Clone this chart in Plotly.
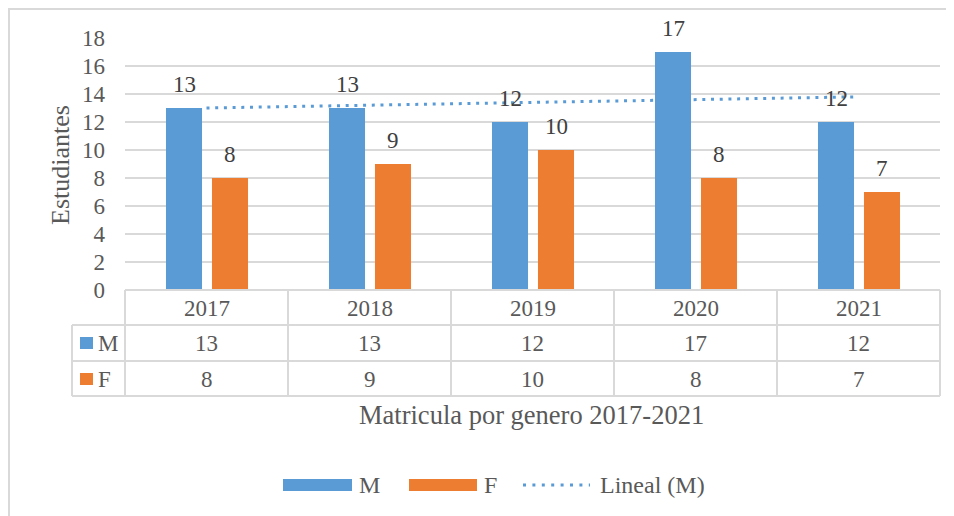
import numpy as np
import plotly.graph_objects as go

# ---------------- data ----------------
years = ["2017", "2018", "2019", "2020", "2021"]
male = [13, 13, 12, 17, 12]
female = [8, 9, 10, 8, 7]
series_names = ["M", "F"]
trend_name = "Lineal (M)"
y_title = "Estudiantes"
x_title = "Matricula por genero 2017-2021"
y_ticks = [0, 2, 4, 6, 8, 10, 12, 14, 16, 18]

# ---------------- style ----------------
BLUE = "#5B9BD5"
ORANGE = "#ED7D31"
GRID = "#D9D9D9"
TXT = "#595959"
LBL = "#404040"
FONT = "Liberation Serif, Times New Roman, serif"
FS = 23

# page body has an 8px margin: figure drawn at (8, 8)
OFF = 8
W, H = 946, 508
L, R, T, B = 117, 14, 30, 226
PW = W - L - R
PH = H - T - B


def px(x):  # screen x -> paper
    return (x - OFF - L) / PW


def py(y):  # screen y -> paper
    return (H - B - (y - OFF)) / PH


pos = list(range(len(years)))

# linear trend of M (least squares)
coef = np.polyfit(pos, male, 1)
trend = np.polyval(coef, pos)

fig = go.Figure()
fig.add_trace(go.Bar(x=pos, y=male, name=series_names[0], width=0.221, offset=-0.2485,
                     marker=dict(color=BLUE, line=dict(width=0))))
fig.add_trace(go.Bar(x=pos, y=female, name=series_names[1], width=0.221, offset=0.0337,
                     marker=dict(color=ORANGE, line=dict(width=0))))
fig.add_trace(go.Scatter(x=pos, y=trend, name=trend_name, mode="lines",
                         line=dict(color=BLUE, width=3, dash="3px,5.7px")))

annotations = []
shapes = []

# data labels
for i in pos:
    annotations.append(dict(x=i, y=male[i], xref="x", yref="y", text=str(male[i]), showarrow=False,
                            yanchor="middle", yshift=24, xshift=-22.5,
                            font=dict(family=FONT, size=FS, color=LBL)))
    annotations.append(dict(x=i, y=female[i], xref="x", yref="y", text=str(female[i]), showarrow=False,
                            yanchor="middle", yshift=24, xshift=23.5,
                            font=dict(family=FONT, size=FS, color=LBL)))

# data table text
for i in pos:
    annotations.append(dict(x=i, y=py(308), xref="x", yref="paper", text=years[i], showarrow=False,
                            yanchor="middle", font=dict(family=FONT, size=FS, color=TXT)))
    annotations.append(dict(x=i, y=py(343), xref="x", yref="paper", text=str(male[i]), showarrow=False,
                            yanchor="middle", font=dict(family=FONT, size=FS, color=TXT)))
    annotations.append(dict(x=i, y=py(379), xref="x", yref="paper", text=str(female[i]), showarrow=False,
                            yanchor="middle", font=dict(family=FONT, size=FS, color=TXT)))

# table row headers (key + name)
for name, col, yc in [(series_names[0], BLUE, 343), (series_names[1], ORANGE, 379)]:
    shapes.append(dict(type="rect", xref="paper", yref="paper", x0=px(80), x1=px(93),
                       y0=py(yc + 6), y1=py(yc - 6), fillcolor=col, line=dict(width=0)))
    annotations.append(dict(x=px(96), y=py(yc), xref="paper", yref="paper", text=name, showarrow=False,
                            xanchor="left", yanchor="middle", font=dict(family=FONT, size=FS, color=TXT)))

# table grid lines
tl = dict(color=GRID, width=2)
shapes.append(dict(type="line", xref="paper", yref="paper", x0=0, x1=1, y0=0, y1=0, line=tl))
for yy in [325, 361, 396]:
    shapes.append(dict(type="line", xref="paper", yref="paper", x0=px(72), x1=1, y0=py(yy), y1=py(yy), line=tl))
shapes.append(dict(type="line", xref="paper", yref="paper", x0=px(72), x1=px(72), y0=py(325), y1=py(396), line=tl))
for k in range(len(years) + 1):
    shapes.append(dict(type="line", xref="paper", yref="paper", x0=k / len(years), x1=k / len(years),
                       y0=0, y1=py(396), line=tl))

# outer chart border (left and top edges visible)
shapes.append(dict(type="rect", xref="paper", yref="paper", x0=px(9), x1=px(W + 20), y0=py(H + 20), y1=py(9),
                   line=dict(color=GRID, width=2), fillcolor="rgba(0,0,0,0)", layer="below"))

# axis titles
annotations.append(dict(x=px(531), y=py(415), xref="paper", yref="paper", text=x_title, showarrow=False,
                        xanchor="center", yanchor="middle", font=dict(family=FONT, size=26.5, color=TXT)))
annotations.append(dict(x=px(60), y=py(165), xref="paper", yref="paper", text=y_title, showarrow=False,
                        textangle=-90, xanchor="center", yanchor="middle",
                        font=dict(family=FONT, size=26, color=TXT)))

# custom legend
legend_y = 485
LFS = 24
shapes.append(dict(type="rect", xref="paper", yref="paper", x0=px(283), x1=px(352),
                   y0=py(legend_y + 6), y1=py(legend_y - 6), fillcolor=BLUE, line=dict(width=0)))
annotations.append(dict(x=px(357), y=py(legend_y), xref="paper", yref="paper", text=series_names[0],
                        showarrow=False, xanchor="left", yanchor="middle",
                        font=dict(family=FONT, size=LFS, color=TXT)))
shapes.append(dict(type="rect", xref="paper", yref="paper", x0=px(409), x1=px(477),
                   y0=py(legend_y + 6), y1=py(legend_y - 6), fillcolor=ORANGE, line=dict(width=0)))
annotations.append(dict(x=px(482), y=py(legend_y), xref="paper", yref="paper", text=series_names[1],
                        showarrow=False, xanchor="left", yanchor="middle",
                        font=dict(family=FONT, size=LFS, color=TXT)))
shapes.append(dict(type="line", xref="paper", yref="paper", x0=px(523), x1=px(590),
                   y0=py(legend_y), y1=py(legend_y), line=dict(color=BLUE, width=3, dash="3px,6.4px")))
annotations.append(dict(x=px(598), y=py(legend_y), xref="paper", yref="paper", text=trend_name,
                        showarrow=False, xanchor="left", yanchor="middle",
                        font=dict(family=FONT, size=LFS, color=TXT)))

fig.update_layout(
    width=W, height=H,
    margin=dict(l=L, r=R, t=T, b=B, pad=0),
    paper_bgcolor="white", plot_bgcolor="white",
    showlegend=False,
    barmode="overlay",
    xaxis=dict(range=[-0.5, len(years) - 0.5], showticklabels=False,
               showgrid=False, zeroline=False, showline=False, ticks=""),
    yaxis=dict(range=[0, 18], tickvals=y_ticks, showgrid=True, gridcolor=GRID, gridwidth=1.5,
               zeroline=False, showline=False, ticks="", ticklabelstandoff=19,
               tickfont=dict(family=FONT, size=FS, color=TXT)),
    annotations=annotations,
    shapes=shapes,
    font=dict(family=FONT, color=TXT),
)

fig.write_html("out.html")
